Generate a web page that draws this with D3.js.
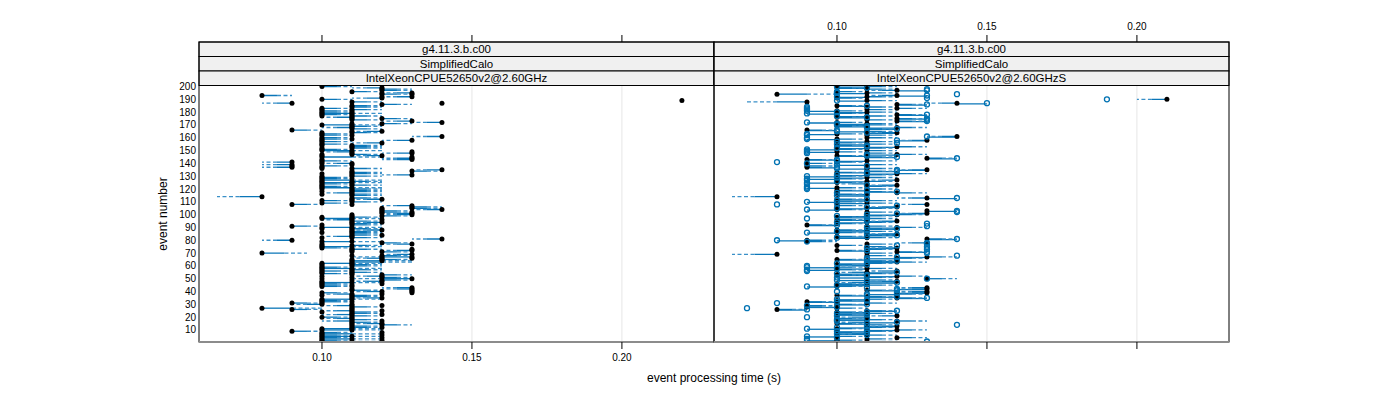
<!DOCTYPE html>
<html><head><meta charset="utf-8">
<script src="https://cdn.jsdelivr.net/npm/d3@7"></script>
<style>body{margin:0;background:#fff} text{font-family:"Liberation Sans",Arial,sans-serif;fill:#000}</style>
</head><body><svg id="c" width="1400" height="400"></svg>
<script>
// event processing times in milliseconds, index 0 = event 1 (0 = no value)
const xTicks = [0.10, 0.15, 0.20];
const xTickLabels = ["0.10", "0.15", "0.20"];
const yTicks = [10,20,30,40,50,60,70,80,90,100,110,120,130,140,150,160,170,180,190,200];
const stripLabels = [
  ["g4.11.3.b.c00", "SimplifiedCalo", "IntelXeonCPUE52650v2@2.60GHz"],
  ["g4.11.3.b.c00", "SimplifiedCalo", "IntelXeonCPUE52650v2@2.60GHzS"]
];
const leftDot = [
100,100,100,100,100,100,100,100,90,100,
100,110,110,120,120,110,110,110,110,100,
110,110,110,110,110,90,80,110,110,100,
90,100,100,100,120,110,110,110,100,120,
110,130,130,100,100,100,100,120,120,130,
120,120,120,100,110,100,110,100,100,110,
110,100,110,110,120,120,130,120,130,80,
120,130,110,100,100,110,130,120,100,90,
140,110,110,110,110,110,110,120,110,100,
90,110,110,120,110,110,100,110,120,130,
130,120,120,140,130,130,130,90,100,110,
100,120,110,80,110,110,110,110,110,110,
100,100,110,100,100,110,100,100,100,110,
130,110,110,130,140,110,90,100,90,110,
90,100,130,130,100,120,110,130,110,100,
100,110,110,110,100,120,100,130,100,100,
140,100,100,110,120,90,110,110,110,100,
120,140,130,110,120,110,110,100,100,100,
100,110,100,110,110,120,90,110,220,100,
120,130,80,120,130,110,120,120,120,100];
const leftDot2 = [
110,120,110,120,110,120,0,120,0,110,
110,120,0,110,110,0,120,0,0,110,
0,120,0,100,120,110,110,0,120,110,
100,110,0,110,110,0,100,120,130,130,
130,110,0,110,110,120,110,100,110,100,
110,100,110,110,100,110,100,110,0,100,
100,110,0,120,110,130,120,110,0,0,
110,110,130,110,0,100,100,0,110,0,
0,100,0,120,0,100,0,110,100,110,
0,100,0,110,0,120,110,100,110,110,
120,130,0,120,120,0,0,110,0,0,
110,110,0,0,0,100,0,100,0,100,
110,0,100,110,110,100,0,110,0,100,
110,100,0,110,0,100,100,90,110,100,
100,0,100,0,130,100,100,110,130,110,
0,100,0,100,0,100,0,100,110,0,
0,110,0,100,110,0,0,0,0,110,
110,0,0,0,110,0,100,110,110,110,
110,100,0,0,0,0,140,0,0,0,
0,120,0,130,120,0,0,0,0,0];
const leftEnd = [
120,110,120,110,120,110,120,110,100,120,
120,120,120,130,110,120,100,120,100,110,
120,100,120,120,100,100,100,120,100,90,
100,110,110,120,110,120,120,100,110,110,
120,120,120,110,110,110,120,110,130,110,
130,110,130,110,120,110,120,120,110,120,
120,120,130,130,130,110,110,130,120,95,
130,120,120,110,120,120,120,130,120,80,
130,120,100,120,120,120,120,110,120,120,
100,120,120,110,120,100,120,120,130,120,
120,130,130,130,140,140,120,100,110,120,
110,110,120,65,120,120,100,120,120,120,
120,110,120,110,120,120,120,110,110,120,
120,120,120,140,130,120,80,110,80,100,
80,110,120,120,120,110,120,120,100,120,
110,120,120,120,110,110,110,120,110,110,
130,110,110,120,110,100,120,100,120,120,
130,130,120,120,130,100,120,110,120,110,
110,120,110,120,120,130,80,120,0,110,
110,120,90,130,120,120,130,130,110,110];
const rightDot = [
110,100,110,120,100,110,110,100,110,120,
100,110,120,110,100,110,120,110,100,110,
120,100,110,100,110,80,100,90,90,100,
110,90,100,110,120,110,100,120,130,130,
110,130,130,100,110,100,110,120,110,130,
110,120,100,110,110,120,100,110,100,110,
100,110,120,110,100,120,130,110,80,110,
120,100,110,120,110,100,110,130,90,90,
130,110,100,110,120,100,110,100,110,120,
110,90,100,110,120,100,110,100,110,120,
130,110,130,100,110,120,100,130,110,100,
110,100,130,80,110,100,120,110,100,110,
100,110,120,110,100,110,120,100,110,100,
110,120,100,110,130,110,90,90,110,90,
100,110,90,130,110,100,120,110,100,110,
100,110,120,100,110,100,110,130,100,110,
140,110,100,120,110,90,110,120,100,110,
110,100,120,110,120,100,110,120,100,110,
100,110,120,110,100,120,140,90,110,210,
100,110,120,80,110,100,120,110,100,110];
const rightCircle = [
130,90,90,100,90,110,100,110,100,110,
90,100,110,140,110,120,100,100,110,90,
100,110,100,110,120,90,70,100,90,110,
80,100,110,100,130,120,110,110,120,100,
120,120,110,90,100,110,120,110,100,130,
100,110,110,100,120,90,90,100,90,90,
110,100,110,120,110,110,120,140,0,130,
130,110,130,110,130,120,130,130,90,80,
140,100,110,120,110,90,100,110,120,110,
130,100,130,100,110,110,90,110,100,110,
120,140,140,90,100,110,120,80,100,90,
100,110,140,0,100,110,100,120,110,90,
90,90,110,90,90,100,90,90,100,90,
100,110,110,120,120,100,100,110,100,90,
80,100,100,140,120,110,110,90,90,90,
90,100,110,110,100,120,100,120,90,90,
130,90,90,110,100,100,120,110,110,100,
100,90,130,130,130,110,100,130,90,100,
90,90,90,90,110,130,150,0,100,190,
130,100,130,140,100,100,130,130,110,100];
const rightEnd = [
120,110,120,130,110,120,100,110,120,130,
110,120,110,120,110,100,130,120,110,100,
110,110,120,110,120,90,110,100,100,110,
120,100,110,120,130,120,110,130,120,120,
120,120,120,110,120,110,100,110,120,140,
120,130,110,120,100,110,110,120,110,100,
110,120,130,120,110,130,140,120,65,120,
130,110,120,110,120,110,120,120,100,100,
140,120,110,120,110,110,120,110,120,130,
120,100,110,120,110,110,120,110,120,130,
120,120,130,110,120,110,110,120,120,110,
120,110,120,65,110,110,130,120,110,120,
110,120,110,100,110,120,110,110,120,110,
120,130,110,120,120,120,100,100,120,100,
110,120,100,140,120,110,130,120,110,120,
110,120,130,110,120,110,120,120,110,120,
130,120,110,110,120,100,120,130,110,120,
120,110,130,120,130,110,120,130,110,120,
110,120,130,120,110,130,130,70,120,200,
110,120,110,100,120,110,110,120,110,120];

const svg = d3.select("#c");
const panelW = 515, plotTop = 85.5, plotBottom = 342, stripTop = 42, stripH = 14.5;
const panels = [
  {x0: 199, dots: leftDot, dots2: leftDot2, circles: null, ends: leftEnd, strips: stripLabels[0], topLabels: false},
  {x0: 714, dots: rightDot, dots2: null, circles: rightCircle, ends: rightEnd, strips: stripLabels[1], topLabels: true}
];
const y = d3.scaleLinear().domain([0.6, 200.8]).range([plotBottom, plotTop]);
const lineCol = "#0a76b8", dashCol = "#3a90c8";

panels.forEach((p, pi) => {
  const x = d3.scaleLinear().domain([0.059, 0.2307]).range([p.x0, p.x0 + panelW]);
  const g = svg.append("g");
  g.selectAll("line.grid").data(xTicks).join("line")
    .attr("x1", d => x(d)).attr("x2", d => x(d)).attr("y1", plotTop).attr("y2", plotBottom)
    .attr("stroke", "#e6e6e6").attr("stroke-width", 1);
  const ev = d3.range(200).map(i => ({e: i + 1, a: p.dots[i] / 1000, q: p.ends[i] / 1000,
    a2: p.dots2 ? p.dots2[i] / 1000 : 0, c: p.circles ? p.circles[i] / 1000 : 0}));
  const clip = "clip" + pi;
  svg.append("clipPath").attr("id", clip).append("rect")
    .attr("x", p.x0).attr("y", plotTop).attr("width", panelW).attr("height", plotBottom - plotTop);
  const pg = g.append("g").attr("clip-path", `url(#${clip})`);
  if (p.circles) {
    // solid link between the filled dot and a neighbouring open circle of the same event
    pg.selectAll("line.bc").data(ev.filter(d => d.c > 0 && d.c !== d.a && Math.abs(d.c - d.a) < 0.015)).join("line")
      .attr("x1", d => x(d.a)).attr("x2", d => x(d.c))
      .attr("y1", d => y(d.e) + 0.6).attr("y2", d => y(d.e) + 0.6)
      .attr("stroke", lineCol).attr("stroke-width", 1.3);
  }
  const withLine = ev.filter(d => d.q > 0 && d.q !== d.a);
  pg.selectAll("line.s").data(withLine).join("line")
    .attr("x1", d => x(d.a)).attr("x2", d => x((d.a + d.q) / 2))
    .attr("y1", d => y(d.e)).attr("y2", d => y(d.e))
    .attr("stroke", lineCol).attr("stroke-width", 1.3);
  pg.selectAll("line.d").data(withLine).join("line")
    .attr("x1", d => x((d.a + d.q) / 2)).attr("x2", d => x(d.q))
    .attr("y1", d => y(d.e)).attr("y2", d => y(d.e))
    .attr("stroke", dashCol).attr("stroke-width", 1.3).attr("stroke-dasharray", "4,2.5");
  pg.selectAll("circle.b").data(ev.filter(d => d.a > 0)).join("circle")
    .attr("cx", d => x(d.a)).attr("cy", d => y(d.e)).attr("r", 2.5).attr("fill", "#000");
  if (p.dots2) {
    pg.selectAll("circle.b2").data(ev.filter(d => d.a2 > 0)).join("circle")
      .attr("cx", d => x(d.a2)).attr("cy", d => y(d.e)).attr("r", 2.5).attr("fill", "#000");
  }
  if (p.circles) {
    pg.selectAll("circle.o").data(ev.filter(d => d.c > 0)).join("circle")
      .attr("cx", d => x(d.c)).attr("cy", d => y(d.e)).attr("r", 2.5)
      .attr("fill", "none").attr("stroke", "#0072b2").attr("stroke-width", 1.3);
  }
  p.strips.forEach((s, si) => {
    const sy = stripTop + si * stripH;
    g.append("rect").attr("x", p.x0).attr("y", sy).attr("width", panelW).attr("height", stripH)
      .attr("fill", "#f0f0f0").attr("stroke", "#000").attr("stroke-width", 1);
    g.append("text").attr("x", p.x0 + panelW / 2).attr("y", sy + stripH / 2 + 4)
      .attr("text-anchor", "middle").attr("font-size", 11.5).text(s);
  });
  g.append("rect").attr("x", p.x0).attr("y", stripTop).attr("width", panelW).attr("height", plotBottom - stripTop)
    .attr("fill", "none").attr("stroke", "#000").attr("stroke-width", 1);
  g.append("line").attr("x1", p.x0).attr("x2", p.x0 + panelW).attr("y1", plotBottom).attr("y2", plotBottom)
    .attr("stroke", "#8c8c8c").attr("stroke-width", 2);
  g.selectAll("line.tt").data(xTicks).join("line")
    .attr("x1", d => x(d)).attr("x2", d => x(d)).attr("y1", stripTop - 7).attr("y2", stripTop)
    .attr("stroke", "#000");
  g.selectAll("line.tb").data(xTicks).join("line")
    .attr("x1", d => x(d)).attr("x2", d => x(d)).attr("y1", plotBottom).attr("y2", plotBottom + 7)
    .attr("stroke", "#000");
  if (p.topLabels) {
    g.selectAll("text.tl").data(xTicks).join("text")
      .attr("x", d => x(d)).attr("y", 30).attr("text-anchor", "middle").attr("font-size", 10)
      .text((d, i) => xTickLabels[i]);
  } else {
    g.selectAll("text.bl").data(xTicks).join("text")
      .attr("x", d => x(d)).attr("y", 361).attr("text-anchor", "middle").attr("font-size", 10)
      .text((d, i) => xTickLabels[i]);
    g.selectAll("text.yl").data(yTicks).join("text")
      .attr("x", p.x0 - 3).attr("y", d => y(d) + 3.5).attr("text-anchor", "end").attr("font-size", 10)
      .text(d => d);
  }
});
svg.append("text").attr("x", 714).attr("y", 382).attr("text-anchor", "middle").attr("font-size", 12)
  .text("event processing time (s)");
svg.append("text").attr("transform", "translate(167,214) rotate(-90)").attr("text-anchor", "middle")
  .attr("font-size", 12).text("event number");
</script></body></html>
